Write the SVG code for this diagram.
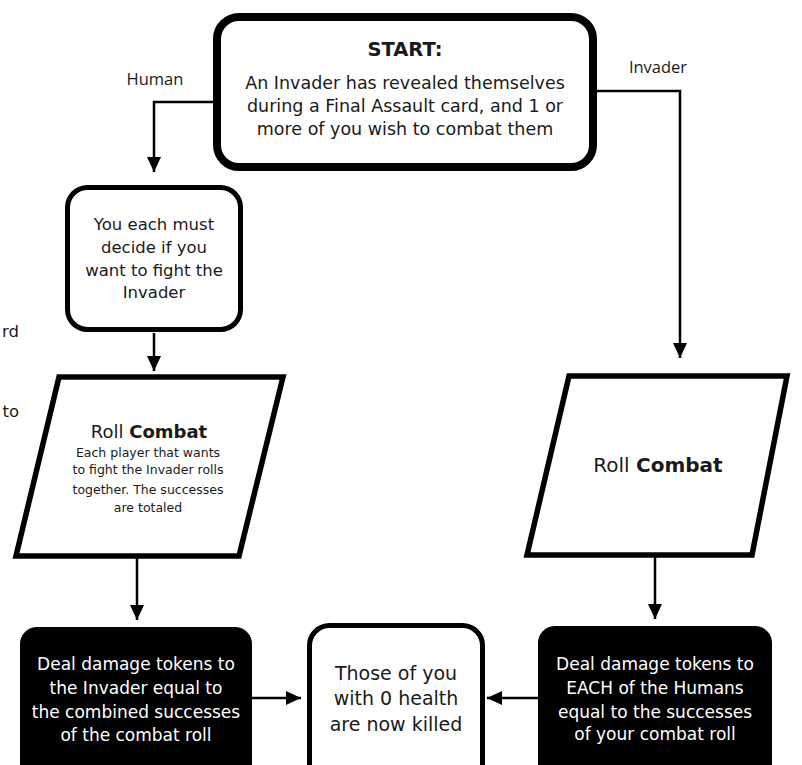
<svg xmlns="http://www.w3.org/2000/svg" width="802" height="765" viewBox="0 0 802 765">
<style>
.t{font-family:"DejaVu Sans","Liberation Sans",sans-serif;text-anchor:middle;fill:#1a1a1a}
.w{fill:#fff}
.lbl{font-family:"Open Sans","Noto Sans",sans-serif;font-size:16.5px;text-anchor:middle;fill:#1a1a1a}
.b{font-weight:bold}
.box{fill:#fff;stroke:#000}
.blk{fill:#000;stroke:none}
.con{fill:none;stroke:#000;stroke-width:2.5}
</style>
<defs>
<marker id="ah" viewBox="0 0 15 14" refX="15" refY="7" markerWidth="15" markerHeight="14" markerUnits="userSpaceOnUse" orient="auto">
<path d="M0,0 L15,7 L0,14 Z" fill="#000"/>
</marker>
</defs>
<rect width="802" height="765" fill="#fff"/>

<g id="edges">
<path class="con" d="M215,102 H154 V172" marker-end="url(#ah)"/>
<path class="con" d="M154,333 V371" marker-end="url(#ah)"/>
<path class="con" d="M595,91 H680 V358" marker-end="url(#ah)"/>
<path class="con" d="M137,556 V620" marker-end="url(#ah)"/>
<path class="con" d="M655,555 V619" marker-end="url(#ah)"/>
<path class="con" d="M252,698 H301" marker-end="url(#ah)"/>
<path class="con" d="M538,698 H487" marker-end="url(#ah)"/>
<text class="lbl" x="155" y="85">Human</text>
<text class="lbl" x="658" y="73">Invader</text>
</g>

<g id="cut-text">
<text class="t" style="text-anchor:end;font-size:16.5px" x="19" y="337">rd</text>
<text class="t" style="text-anchor:end;font-size:16.5px" x="19" y="417">to</text>
</g>

<g id="start">
<rect class="box" x="217" y="17" width="376" height="150" rx="22" stroke-width="8"/>
<text class="t b" x="405" y="56" font-size="19.5">START:</text>
<text class="t" x="405" y="89" font-size="17.5">An Invader has revealed themselves</text>
<text class="t" x="405" y="112" font-size="17.5">during a Final Assault card, and 1 or</text>
<text class="t" x="405" y="135" font-size="17.5">more of you wish to combat them</text>
</g>

<g id="decide">
<rect class="box" x="67.5" y="187.5" width="173" height="142" rx="20" stroke-width="5"/>
<text class="t" x="154" y="230" font-size="16.5">You each must</text>
<text class="t" x="154" y="253" font-size="16.5">decide if you</text>
<text class="t" x="154" y="276" font-size="16.5">want to fight the</text>
<text class="t" x="154" y="298" font-size="16.5">Invader</text>
</g>

<g id="roll-human">
<polygon class="box" points="59,377 283,377 239,556 16,556" stroke-width="5.5"/>
<text class="t" x="149" y="438" font-size="18">Roll <tspan class="b">Combat</tspan></text>
<text class="t" x="148" y="457" font-size="12.5">Each player that wants</text>
<text class="t" x="148" y="474" font-size="12.5">to fight the Invader rolls</text>
<text class="t" x="148" y="494" font-size="12.5">together. The successes</text>
<text class="t" x="148" y="512" font-size="12.5">are totaled</text>
</g>

<g id="roll-invader">
<polygon class="box" points="569,376 787,376 752,555 527,555" stroke-width="5.5"/>
<text class="t" x="658" y="472" font-size="20">Roll <tspan class="b">Combat</tspan></text>
</g>

<g id="deal-invader">
<rect class="blk" x="20" y="627" width="232" height="170" rx="17"/>
<text class="t w" x="136" y="670" font-size="17">Deal damage tokens to</text>
<text class="t w" x="136" y="694" font-size="17">the Invader equal to</text>
<text class="t w" x="136" y="718" font-size="17">the combined successes</text>
<text class="t w" x="136" y="741" font-size="17">of the combat roll</text>
</g>

<g id="killed">
<rect class="box" x="309.5" y="625.5" width="173" height="170" rx="20" stroke-width="5"/>
<text class="t" x="396" y="680" font-size="19">Those of you</text>
<text class="t" x="396" y="705" font-size="19">with 0 health</text>
<text class="t" x="396" y="731" font-size="19">are now killed</text>
</g>

<g id="deal-humans">
<rect class="blk" x="538" y="626" width="234" height="170" rx="17"/>
<text class="t w" x="655" y="670" font-size="17">Deal damage tokens to</text>
<text class="t w" x="655" y="694" font-size="17">EACH of the Humans</text>
<text class="t w" x="655" y="718" font-size="17">equal to the successes</text>
<text class="t w" x="655" y="740" font-size="17">of your combat roll</text>
</g>
</svg>
